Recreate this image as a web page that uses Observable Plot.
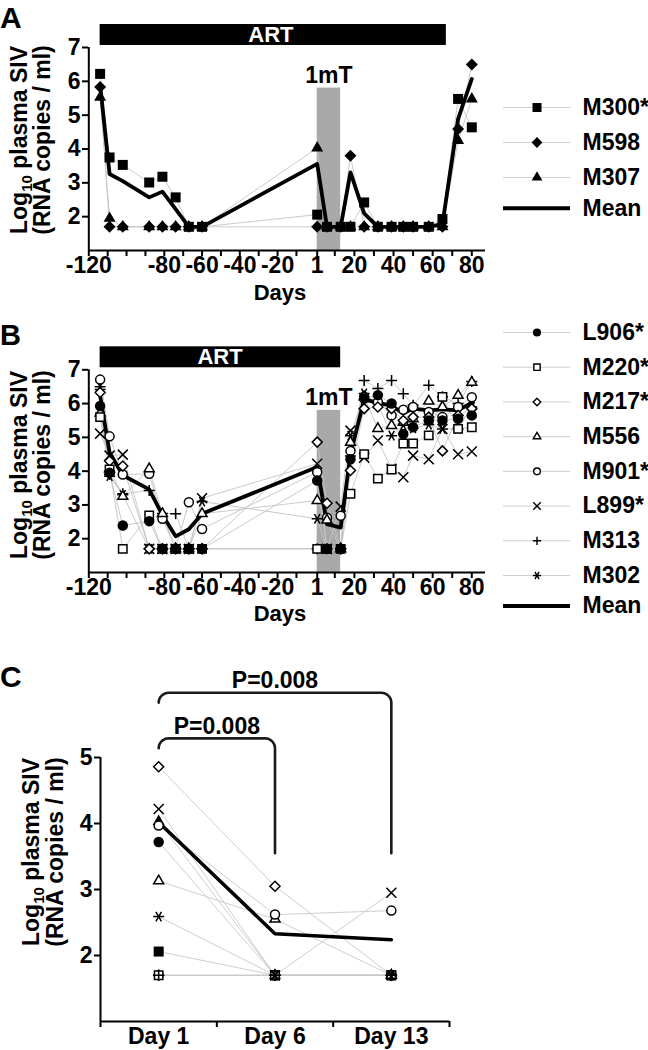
<!DOCTYPE html>
<html><head><meta charset="utf-8">
<script src="https://cdn.jsdelivr.net/npm/d3@7"></script>
<script src="https://cdn.jsdelivr.net/npm/@observablehq/plot@0.6"></script>
<style>
html,body{margin:0;padding:0;background:#fff;}
#page{position:relative;width:648px;height:1050px;overflow:hidden;background:#fff;}
svg{overflow:visible;}
</style></head>
<body><div id="page"></div>
<script>
// ---------------- DATA ----------------
const days = [-114,-109,-102,-88,-81,-74,-67,-60, 1, 6, 13, 18, 25, 32, 39, 45, 50, 58, 65, 73, 80];

// Panel A animals (log10 plasma SIV)
const namesA = ["M300*", "M598", "M307"];
const M300 = [6.22,3.75,3.53,3.01,3.18,2.57,1.7,1.7, 2.06,1.7,1.7, 1.7,2.42,1.7,1.7,1.7,1.7,1.7,1.93,5.48,4.64];
const M598 = [5.83,1.7,1.7,1.7,1.7,1.7,1.7,1.7, 1.7,1.7,1.7, 3.8,1.7,1.7,1.7,1.7,1.7,1.7,1.7,4.59,6.5];
const M307 = [5.53,1.95,1.7,1.7,1.7,1.7,1.7,1.7, 4.03,1.7,1.7, 1.7,1.7,1.7,1.7,1.7,1.7,1.7,1.7,4.25,5.48];
const meanA = [5.9,3.26,3.05,2.57,2.74,2.22,1.7,1.7, 3.56,1.7,1.7, 3.31,2.1,1.7,1.7,1.7,1.7,1.7,1.78,4.89,6.07];

// Panel B animals
const namesB = ["L906*", "M220*", "M217*", "M556", "M901*", "L899*", "M313", "M302"];
const L906 = [5.93,3.95,2.39,2.52,1.7,1.7,1.7,1.7, 3.72,1.7,1.7, 4.35,6.15,6.25,6.0,5.1,5.3,5.5,5.5,5.55,5.65];
const M220 = [5.6,4.05,1.7,2.69,1.7,1.7,1.7,1.7, 1.7,1.7,1.7, 3.33,4.5,3.78,4.05,4.82,4.82,5.06,6.2,5.25,5.3];
const M217 = [6.33,4.3,4.15,1.7,1.7,1.7,1.7,1.7, 4.86,3.05,1.7, 4.02,5.85,5.9,5.85,5.5,5.6,5.6,4.6,5.65,5.85];
const M556 = [5.72,4.07,3.25,4.07,2.74,1.7,1.7,2.74, 3.13,2.55,1.7, 4.85,6.2,5.26,5.35,5.45,5.55,6.07,5.9,6.24,6.63];
const M901 = [6.71,5.03,3.9,3.92,2.59,1.7,3.08,2.29, 3.97,2.62,2.68, 4.6,6.2,6.05,5.65,5.82,5.9,5.75,5.6,5.9,6.19];
const L899 = [5.11,4.46,4.49,1.7,1.7,1.7,1.7,3.2, 4.22,1.7,2.95, 5.2,4.4,4.91,4.07,3.82,4.46,4.35,5.25,4.5,4.58];
const M313 = [6.42,3.9,3.33,3.43,2.75,2.74,1.7,1.7, 1.7,1.7,1.7, 4.45,6.68,6.45,6.68,6.29,5.95,6.54,6.2,6.0,6.65];
const M302 = [6.5,3.85,3.3,1.7,1.7,1.7,1.7,3.1, 2.59,1.7,1.7, 5.05,6.3,6.0,5.05,5.36,5.27,5.38,5.25,5.25,5.9];
const meanB = [6.24,4.55,3.88,3.46,2.7,2.07,2.28,2.74, 4.12,2.43,2.33, 4.5,6.12,6.03,5.93,5.72,5.85,5.8,5.83,5.8,6.03];

// Panel C
const dayLabelsC = ["Day 1", "Day 6", "Day 13"];
const dayValuesC = [1, 6, 13];
const meanC = [4.02, 2.33, 2.24];
const comparisons = [{from: "Day 1", to: "Day 6", label: "P=0.008"}, {from: "Day 1", to: "Day 13", label: "P=0.008"}];

// Periods
const artA = [-114, 67];
const artB = [-114, 13];
const mT = [1, 13];

// Ticks
const xTicks = [-120,-110,-100,-90,-80,-70,-60,-50,-40,-30,-20,-10,1,10,20,30,40,50,60,70,80];
const xTickLabels = [-120,-80,-60,-40,-20,1,20,40,60,80];
const yTicks = [2,3,4,5,6,7];
const yTicksC = [2,3,4,5];

// ---------------- STYLE ----------------
const FONT = "'Liberation Sans', Arial, Helvetica, sans-serif";
const baseStyle = {fontFamily: FONT, fontSize: "23px", fontWeight: "bold", color: "black", background: "transparent", overflow: "visible"};
const page = document.getElementById("page");

const rad = s => Math.sqrt(s / Math.PI);
const SYM = {
  circle: {draw(c, s){ const r = rad(s); c.moveTo(r, 0); c.arc(0, 0, r, 0, 2*Math.PI); c.closePath(); }},
  square: {draw(c, s){ const r = rad(s); c.moveTo(-r,-r); c.lineTo(r,-r); c.lineTo(r,r); c.lineTo(-r,r); c.closePath(); }},
  diamond: {draw(c, s){ const r = rad(s); c.moveTo(0,-r); c.lineTo(r,0); c.lineTo(0,r); c.lineTo(-r,0); c.closePath(); }},
  triangle: {draw(c, s){ const r = rad(s), R = r/0.866; c.moveTo(0,-R); c.lineTo(r,R/2); c.lineTo(-r,R/2); c.closePath(); }},
  times: {draw(c, s){ const r = rad(s); c.moveTo(-r,-r); c.lineTo(r,r); c.moveTo(-r,r); c.lineTo(r,-r); }},
  plus: {draw(c, s){ const r = rad(s); c.moveTo(-r,0); c.lineTo(r,0); c.moveTo(0,-r); c.lineTo(0,r); }},
  asterisk: {draw(c, s){ const r = rad(s); for (const a of [0, Math.PI/3, 2*Math.PI/3]) { c.moveTo(-r*Math.cos(a), -r*Math.sin(a)); c.lineTo(r*Math.cos(a), r*Math.sin(a)); } }}
};
const look = {
  "M300*": {symbol: SYM.square, r: 5, fill: "black", stroke: "none"},
  "M598": {symbol: SYM.diamond, r: 6, fill: "black", stroke: "none"},
  "M307": {symbol: SYM.triangle, r: 6, fill: "black", stroke: "none"},
  "L906*": {symbol: SYM.circle, r: 4.5, fill: "black", stroke: "black"},
  "M220*": {symbol: SYM.square, r: 4.2, fill: "white", stroke: "black"},
  "M217*": {symbol: SYM.diamond, r: 5, fill: "white", stroke: "black"},
  "M556": {symbol: SYM.triangle, r: 5, fill: "white", stroke: "black"},
  "M901*": {symbol: SYM.circle, r: 4.5, fill: "white", stroke: "black"},
  "L899*": {symbol: SYM.times, r: 5, fill: "none", stroke: "black"},
  "M313": {symbol: SYM.plus, r: 5.5, fill: "none", stroke: "black"},
  "M302": {symbol: SYM.asterisk, r: 5.5, fill: "none", stroke: "black"}
};
const seriesByName = {"M300*": M300, "M598": M598, "M307": M307, "L906*": L906, "M220*": M220, "M217*": M217,
  "M556": M556, "M901*": M901, "L899*": L899, "M313": M313, "M302": M302};

function place(el, left, top) {
  el.style.position = "absolute"; el.style.left = left + "px"; el.style.top = top + "px";
  page.appendChild(el);
}
function longRows(names, xs, getVals) {
  return names.flatMap(name => getVals(name).map((v, j) => ({animal: name, x: xs[j], value: v})));
}
function dotMarks(rows, names, scale = 1) {
  return names.map(name => {
    const L = look[name];
    return Plot.dot(rows.filter(d => d.animal === name), {x: "x", y: "value", symbol: L.symbol, r: L.r * scale,
      fill: L.fill, stroke: L.stroke, strokeWidth: 1.5});
  });
}

// ---------------- PANELS A & B ----------------
function timePanel({names, mean, art, height, marginTop, marginBottom}) {
  const rows = longRows(names, days, n => seriesByName[n]);
  const meanRows = mean.map((v, j) => ({x: days[j], value: v}));
  return Plot.plot({
    width: 500, height, marginLeft: 88, marginRight: 15, marginTop, marginBottom,
    style: baseStyle,
    x: {type: "linear", domain: [-120, 1, 87], range: [88.3, 316.7, 485]},
    y: {type: "linear", domain: [1, 7], range: [height - marginBottom, marginTop]},
    marks: [
      Plot.rect([art], {x1: d => d[0], x2: d => d[1], y1: 7.06, y2: 7.68, fill: "black"}),
      Plot.text([art], {x: d => (d[0] + d[1]) / 2, y: 7.37, text: () => "ART", fill: "white", fontSize: 22}),
      Plot.rect([mT], {x1: d => d[0], x2: d => d[1], y1: 1, y2: 5.8, fill: "#a9a9a9"}),
      Plot.text([mT], {x: d => (d[0] + d[1]) / 2, y: 6.18, text: () => "1mT", fontSize: 23}),
      Plot.line(rows, {x: "x", y: "value", z: "animal", stroke: "#c4c4c4", strokeWidth: 0.9}),
      Plot.line(meanRows, {x: "x", y: "value", stroke: "black", strokeWidth: 3.8}),
      ...dotMarks(rows, [...names].reverse()),
      Plot.ruleY([1], {stroke: "black", strokeWidth: 2}),
      Plot.ruleX([-120], {y1: 1, y2: 7, stroke: "black", strokeWidth: 2}),
      Plot.axisX({ticks: xTicks, tickFormat: d => xTickLabels.includes(d) ? String(d) : "", tickSize: 6, tickPadding: 0, strokeWidth: 2, label: null}),
      Plot.axisY({ticks: yTicks, tickFormat: d => String(d), tickSize: 6, tickPadding: 2, strokeWidth: 2, label: null})
    ]
  });
}

// legend: animal rows evenly spaced, the Mean row set slightly closer (as in the figure)
function legendPlot(names, height, range, symScale) {
  const n = names.length;
  const idx = new Map(names.map((d, i) => [d, i]));
  idx.set("Mean", n - 1 + 0.88);
  const all = [...names, "Mean"];
  return Plot.plot({
    width: 158, height, marginLeft: 13, marginRight: 78, marginTop: 0, marginBottom: 0,
    style: baseStyle,
    y: {type: "linear", domain: [0, n - 1], range, axis: null},
    marks: [
      Plot.ruleY(names, {y: d => idx.get(d), stroke: "#cfcfcf", strokeWidth: 1}),
      Plot.ruleY(["Mean"], {y: d => idx.get(d), stroke: "black", strokeWidth: 4}),
      ...names.map(nm => Plot.dot([nm], {y: d => idx.get(d), frameAnchor: "middle", symbol: look[nm].symbol, r: look[nm].r * symScale,
        fill: look[nm].fill, stroke: look[nm].stroke, strokeWidth: 1.4})),
      Plot.text(all, {y: d => idx.get(d), text: d => d, frameAnchor: "right", textAnchor: "start", dx: 12, fontSize: 23})
    ]
  });
}

place(timePanel({names: namesA, mean: meanA, art: artA, height: 300, marginTop: 47, marginBottom: 50}), 0, 0);
place(legendPlot(namesA, 150, [27, 97], 0.9), 490, 80);
place(timePanel({names: namesB, mean: meanB, art: artB, height: 330, marginTop: 69.3, marginBottom: 58}), 0, 300);
place(legendPlot(namesB, 330, [32, 275], 0.75), 490, 300);

// ---------------- PANEL C ----------------
const namesC = [...namesA, ...namesB];
const posC = dayLabelsC.map((_, i) => i + 0.5);
const rowsC = longRows(namesC, posC, n => dayValuesC.map(d => seriesByName[n][days.indexOf(d)]));
const meanRowsC = meanC.map((v, j) => ({x: posC[j], value: v}));

const bracketLevels = [5.29, 5.98];
const bracketDrop = 3.55;
const rx = 0.086, ry = 0.15;
const bracketRows = comparisons.flatMap((c, k) => {
  const x0 = posC[dayLabelsC.indexOf(c.from)], x1 = posC[dayLabelsC.indexOf(c.to)], yt = bracketLevels[k];
  const pts = [];
  for (let i = 0; i <= 8; i++) { const t = Math.PI - i * Math.PI / 16; pts.push([x0 + rx + rx * Math.cos(t), yt - ry + ry * Math.sin(t)]); }
  for (let i = 0; i <= 8; i++) { const t = Math.PI / 2 - i * Math.PI / 16; pts.push([x1 - rx + rx * Math.cos(t), yt - ry + ry * Math.sin(t)]); }
  pts.push([x1, bracketDrop]);
  return pts.map(p => ({id: k, x: p[0], value: p[1]}));
});
const labelRows = comparisons.map((c, k) => ({
  x: (posC[dayLabelsC.indexOf(c.from)] + posC[dayLabelsC.indexOf(c.to)]) / 2, value: bracketLevels[k] + 0.18, text: c.label}));

const plotC = Plot.plot({
  width: 470, height: 410, marginLeft: 100, marginRight: 21, marginTop: 117, marginBottom: 29,
  style: baseStyle,
  x: {type: "linear", domain: [0, 3], range: [100, 449]},
  y: {type: "linear", domain: [1, 5], range: [381, 117]},
  marks: [
    Plot.line(rowsC, {x: "x", y: "value", z: "animal", stroke: "#c8c8c8", strokeWidth: 0.9}),
    Plot.line(meanRowsC, {x: "x", y: "value", stroke: "black", strokeWidth: 3.5}),
    ...dotMarks(rowsC, namesC),
    Plot.line(bracketRows, {x: "x", y: "value", z: "id", stroke: "#1a1a1a", strokeWidth: 2.6, strokeLinejoin: "round"}),
    Plot.text(labelRows, {x: "x", y: "value", text: "text", fontSize: 23}),
    Plot.ruleY([1], {stroke: "black", strokeWidth: 2}),
    Plot.ruleX([0], {y1: 1, y2: 5, stroke: "black", strokeWidth: 2}),
    Plot.axisX({ticks: [0, 1, 2, 3], tickFormat: () => "", tickSize: 6, strokeWidth: 2, label: null}),
    Plot.axisX({ticks: posC, tickFormat: d => dayLabelsC[posC.indexOf(d)], tickSize: 0, tickPadding: 6, label: null}),
    Plot.axisY({ticks: yTicksC, tickFormat: d => String(d), tickSize: 6, tickPadding: 2, strokeWidth: 2, label: null})
  ]
});
place(plotC, 0, 640);

// ---------------- STATIC TEXT (letters, axis titles) ----------------
const ov = d3.create("svg").attr("width", 648).attr("height", 1050)
  .attr("font-family", FONT).attr("font-weight", "bold").style("overflow", "visible");
ov.append("text").attr("x", 0).attr("y", 28).attr("font-size", 30).text("A");
ov.append("text").attr("x", 0).attr("y", 345).attr("font-size", 29).text("B");
ov.append("text").attr("x", 0).attr("y", 687).attr("font-size", 30).text("C");
function yLabel(x1, x2, cy) {
  const t = ov.append("text").attr("transform", `translate(${x1},${cy}) rotate(-90)`).attr("text-anchor", "middle").attr("font-size", 23);
  t.append("tspan").text("Log");
  t.append("tspan").attr("font-size", 15).attr("dy", 5).text("10");
  t.append("tspan").attr("dy", -5).text(" plasma SIV");
  ov.append("text").attr("transform", `translate(${x2},${cy}) rotate(-90)`).attr("text-anchor", "middle").attr("font-size", 23).text("(RNA copies / ml)");
}
yLabel(27, 50, 140);
yLabel(27, 50, 465);
yLabel(39, 63, 852);
ov.append("text").attr("x", 280).attr("y", 300).attr("text-anchor", "middle").attr("font-size", 22).text("Days");
ov.append("text").attr("x", 280).attr("y", 621).attr("text-anchor", "middle").attr("font-size", 22).text("Days");
place(ov.node(), 0, 0);
</script></body></html>
